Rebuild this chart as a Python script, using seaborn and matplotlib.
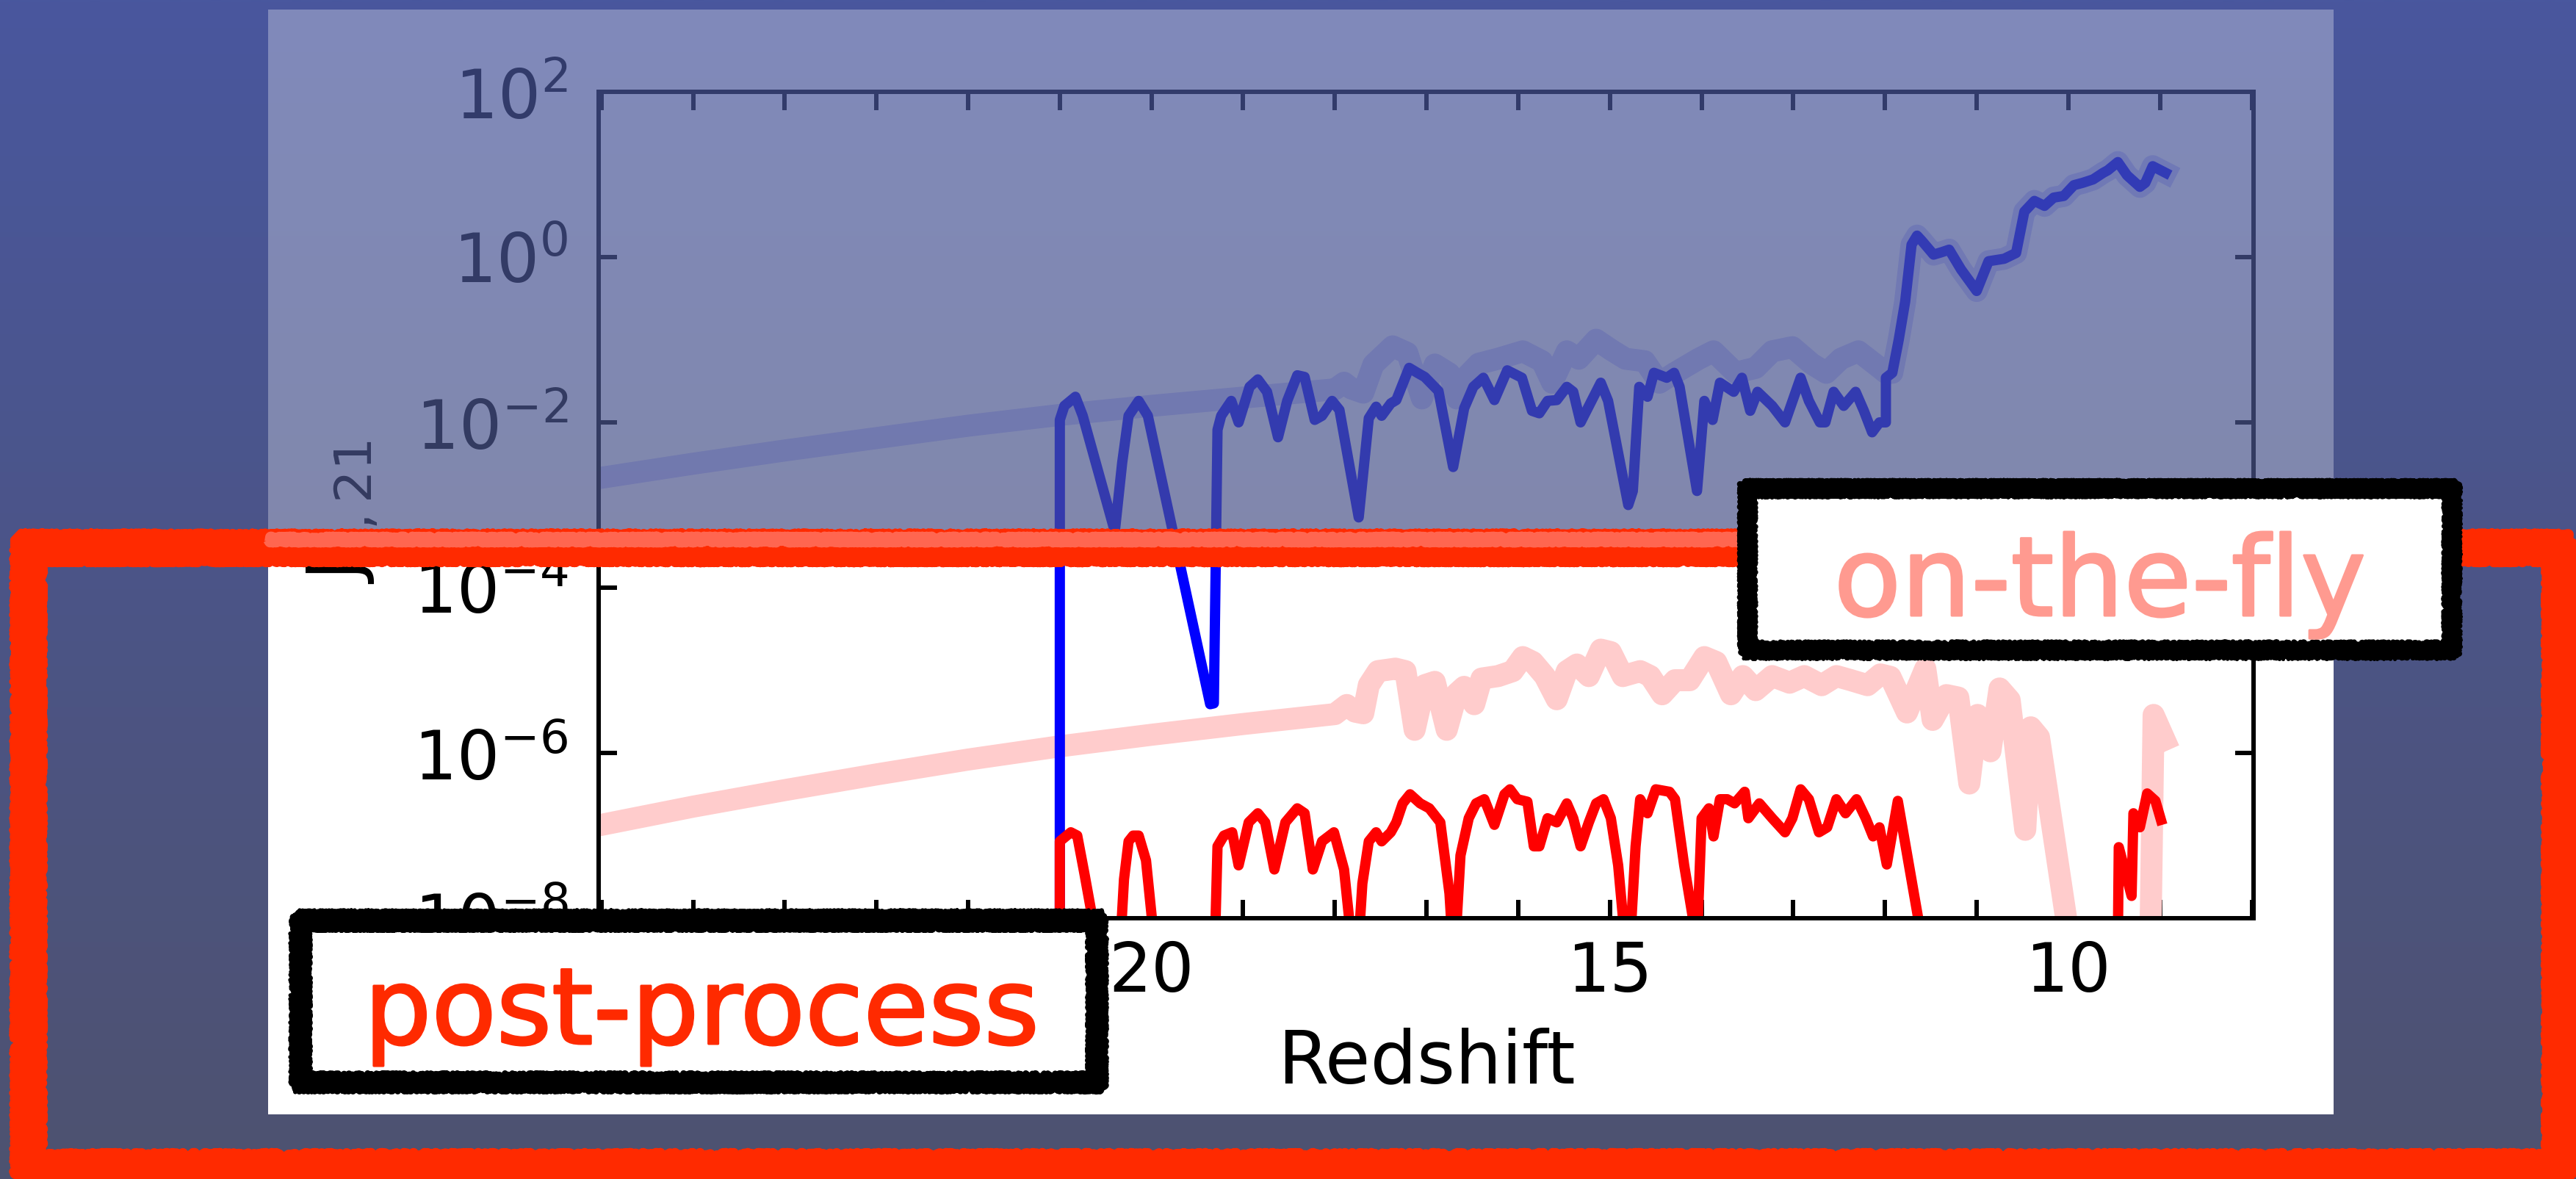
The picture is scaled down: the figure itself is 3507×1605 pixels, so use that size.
import numpy as np
import pandas as pd
import matplotlib
matplotlib.use("Agg")
import matplotlib.pyplot as plt
import matplotlib.patheffects as pe
from matplotlib.patches import Rectangle
from matplotlib.ticker import FixedLocator, MultipleLocator, NullLocator, LogFormatterMathtext
import seaborn as sns

plt.rcParams["font.family"] = ["DejaVu Sans"]
plt.rcParams["mathtext.fontset"] = "dejavusans"

W, H, DPI = 3507, 1605, 100
PX = 72.0 / DPI  # points per pixel

# ---------------------------------------------------------------------------
# J_{nu,21} against redshift, stored as log10(J)
# ---------------------------------------------------------------------------
# on-the-fly, Lyman-Werner (blue)
otf_blue_z = [26.0, 25.0, 24.0, 23.0, 22.0, 21.0, 20.0, 19.0, 18.5, 18.0,
              17.9, 17.82, 17.69, 17.58, 17.37, 17.21, 17.05, 16.91, 16.75, 16.67,
              16.57, 16.43, 16.22, 15.95, 15.74, 15.63, 15.47, 15.34, 15.15, 14.99,
              14.83, 14.62, 14.46, 14.29, 14.03, 13.87, 13.63, 13.41, 13.23, 13.01,
              12.80, 12.64, 12.48, 12.29, 12.08, 11.99,
              11.92, 11.85, 11.78, 11.71, 11.65, 11.60, 11.47, 11.38, 11.30, 11.17,
              11.00, 10.87, 10.70, 10.57, 10.48, 10.37, 10.26, 10.16, 10.05, 9.94,
              9.84, 9.73, 9.62, 9.57, 9.46, 9.36, 9.22, 9.16, 9.08, 8.94]
otf_blue_logj = [-2.67, -2.50, -2.34, -2.19, -2.04, -1.91, -1.80, -1.70, -1.65, -1.60,
                 -1.52, -1.59, -1.64, -1.30, -1.08, -1.16, -1.71, -1.30, -1.41, -1.71,
                 -1.45, -1.29, -1.23, -1.14, -1.26, -1.52, -1.14, -1.23, -1.00, -1.12,
                 -1.23, -1.26, -1.52, -1.40, -1.23, -1.14, -1.40, -1.34, -1.14, -1.09,
                 -1.29, -1.40, -1.23, -1.14, -1.32, -1.40,
                 -1.40, -1.00, -0.54, 0.15, 0.26, 0.20, 0.03, 0.06, 0.09, -0.15,
                 -0.41, -0.05, -0.02, 0.05, 0.55, 0.68, 0.62, 0.72, 0.74, 0.87,
                 0.90, 0.94, 1.02, 1.05, 1.15, 0.99, 0.85, 0.90, 1.10, 1.02]

# on-the-fly, ionising (red)
otf_red_z = [26.0, 25.0, 24.0, 23.0, 22.0, 21.0, 20.0, 19.0, 18.5, 18.0,
             17.87, 17.78, 17.69, 17.63, 17.53, 17.34, 17.23, 17.13, 17.02, 16.91,
             16.78, 16.67, 16.59, 16.48, 16.40, 16.22, 16.06, 15.95, 15.84, 15.71,
             15.58, 15.47, 15.36, 15.23, 15.10, 14.99, 14.86, 14.67, 14.56, 14.43,
             14.29, 14.13, 13.97, 13.84, 13.68, 13.55, 13.41, 13.23, 13.04, 12.88,
             12.69, 12.53, 12.37, 12.19, 12.05, 11.94, 11.76, 11.56, 11.48, 11.33,
             11.20, 11.08, 10.99, 10.85, 10.75, 10.64, 10.47, 10.41, 10.32, 10.00,
             9.12, 9.07, 8.95]
otf_red_logj = [-6.87, -6.65, -6.45, -6.26, -6.08, -5.92, -5.78, -5.65, -5.59, -5.53,
                -5.42, -5.50, -5.52, -5.18, -5.01, -4.98, -5.01, -5.72, -5.18, -5.14,
                -5.72, -5.28, -5.20, -5.41, -5.10, -5.07, -5.01, -4.84, -4.90, -5.07,
                -5.35, -5.01, -4.93, -5.07, -4.75, -4.78, -5.07, -5.01, -5.07, -5.29,
                -5.12, -5.12, -4.84, -4.90, -5.29, -5.07, -5.24, -5.07, -5.15, -5.07,
                -5.18, -5.07, -5.12, -5.18, -5.05, -5.08, -5.51, -4.98, -5.60, -5.30,
                -5.33, -6.37, -5.54, -5.98, -5.22, -5.36, -6.93, -5.69, -5.81, -8.18,
                -9.50, -5.54, -5.84]

# post-processed, Lyman-Werner (blue)
pp_blue_z = [21.0, 21.0, 20.95, 20.83, 20.75, 20.40, 20.32, 20.25, 20.14, 20.04,
             19.36, 19.32, 19.28, 19.24, 19.13, 19.05, 18.93, 18.84, 18.74, 18.62,
             18.52, 18.41, 18.33, 18.22, 18.14, 18.03, 17.95, 17.74, 17.63, 17.55,
             17.49, 17.39, 17.33, 17.19, 17.10, 17.02, 16.87, 16.71, 16.59, 16.49,
             16.38, 16.26, 16.12, 15.96, 15.85, 15.77, 15.68, 15.58, 15.47, 15.40,
             15.32, 15.10, 15.02, 14.80, 14.75, 14.68, 14.59, 14.52, 14.38, 14.30,
             14.24, 14.05, 13.97, 13.88, 13.80, 13.65, 13.56, 13.47, 13.39, 13.23,
             13.09, 12.92, 12.83, 12.71, 12.65, 12.56, 12.45, 12.32, 12.23, 12.14,
             12.06, 11.99, 11.99, 11.92, 11.85, 11.78, 11.71, 11.65, 11.60, 11.47,
             11.38, 11.30, 11.17, 11.00, 10.87, 10.70, 10.57, 10.48, 10.37, 10.26,
             10.16, 10.05, 9.94, 9.84, 9.73, 9.62, 9.57, 9.46, 9.36, 9.22,
             9.16, 9.08, 8.94]
pp_blue_logj = [-12.0, -1.97, -1.80, -1.69, -1.92, -3.32, -2.49, -1.92, -1.74, -1.92,
                -5.41, -5.40, -2.09, -1.92, -1.74, -2.00, -1.57, -1.48, -1.63, -2.18,
                -1.74, -1.43, -1.45, -1.97, -1.92, -1.74, -1.85, -3.15, -1.95, -1.81,
                -1.92, -1.77, -1.73, -1.34, -1.40, -1.45, -1.62, -2.54, -1.83, -1.57,
                -1.46, -1.73, -1.37, -1.46, -1.86, -1.89, -1.74, -1.73, -1.57, -1.63,
                -2.00, -1.52, -1.74, -3.00, -2.83, -1.57, -1.69, -1.40, -1.46, -1.40,
                -1.57, -2.83, -1.74, -1.97, -1.52, -1.63, -1.46, -1.86, -1.63, -1.80,
                -2.00, -1.46, -1.74, -2.00, -2.00, -1.63, -1.80, -1.63, -1.86, -2.12,
                -2.00, -2.00, -1.46, -1.40, -1.00, -0.54, 0.15, 0.26, 0.20, 0.03,
                0.06, 0.09, -0.15, -0.41, -0.05, -0.02, 0.05, 0.55, 0.68, 0.62,
                0.72, 0.74, 0.87, 0.90, 0.94, 1.02, 1.05, 1.15, 0.99, 0.85,
                0.90, 1.10, 1.02]

# post-processed, ionising (red)
pp_red_z = [21.0, 21.0, 20.88, 20.81, 20.73, 20.40, 20.30, 20.25, 20.20, 20.14,
            20.06, 19.95, 19.36, 19.28, 19.21, 19.12, 19.05, 18.94, 18.84, 18.76,
            18.66, 18.54, 18.41, 18.33, 18.24, 18.14, 18.01, 17.90, 17.77, 17.70,
            17.63, 17.55, 17.49, 17.39, 17.33, 17.26, 17.18, 17.07, 16.97, 16.85,
            16.75, 16.70, 16.63, 16.54, 16.46, 16.37, 16.26, 16.15, 16.09, 16.01,
            15.90, 15.83, 15.77, 15.68, 15.58, 15.47, 15.40, 15.32, 15.23, 15.15,
            15.07, 14.99, 14.91, 14.80, 14.72, 14.67, 14.59, 14.50, 14.35, 14.29,
            14.19, 14.05, 14.00, 13.92, 13.87, 13.80, 13.72, 13.64, 13.53, 13.49,
            13.37, 13.23, 13.09, 13.01, 12.92, 12.83, 12.72, 12.63, 12.53, 12.43,
            12.31, 12.21, 12.13, 12.06, 11.98, 11.86, 11.45, 9.47, 9.45, 9.31,
            9.29, 9.22, 9.14, 9.05, 8.99]
pp_red_logj = [-12.0, -7.07, -6.96, -7.00, -7.47, -9.50, -7.53, -7.07, -7.00, -7.00,
               -7.30, -8.50, -10.5, -7.13, -7.00, -6.96, -7.36, -6.84, -6.73, -6.84,
               -7.41, -6.84, -6.67, -6.73, -7.41, -7.07, -6.96, -7.41, -8.80, -7.58,
               -7.07, -6.96, -7.07, -6.96, -6.84, -6.61, -6.50, -6.61, -6.67, -6.84,
               -7.70, -8.60, -7.24, -6.79, -6.61, -6.56, -6.87, -6.50, -6.44, -6.56,
               -6.59, -7.13, -7.13, -6.79, -6.84, -6.61, -6.79, -7.13, -6.84, -6.61,
               -6.56, -6.79, -7.36, -8.70, -7.13, -6.56, -6.73, -6.44, -6.47, -6.56,
               -7.36, -8.30, -6.79, -6.67, -7.01, -6.56, -6.56, -6.61, -6.47, -6.79,
               -6.61, -6.79, -6.96, -6.79, -6.44, -6.56, -6.96, -6.90, -6.56, -6.73,
               -6.56, -6.79, -7.01, -6.90, -7.35, -6.58, -9.20, -9.50, -7.14, -7.73,
               -6.73, -6.90, -6.49, -6.58, -6.81]

y_tick_values = [1e-8, 1e-6, 1e-4, 1e-2, 1e0, 1e2]
label_otf = "on-the-fly"
label_pp = "post-process"


def frame(z, logj):
    return pd.DataFrame({"z": z, "J": np.power(10.0, np.asarray(logj))})


fig = plt.figure(figsize=(W / DPI, H / DPI), dpi=DPI)

# ---- slide background: vertical gradient and the white figure panel ----
top_rgb = np.array([73, 87, 158]) / 255.0
bot_rgb = np.array([78, 82, 112]) / 255.0


def gradient(t0, t1, n=256):
    t = np.linspace(t0, t1, n)[:, None, None]
    return top_rgb + (bot_rgb - top_rgb) * t


bg = fig.add_axes([0, 0, 1, 1], zorder=-10)
bg.imshow(gradient(0, 1), extent=[0, W, H, 0], aspect="auto", interpolation="bilinear")
bg.add_patch(Rectangle((365, 13), 3177 - 365, 1517 - 13, facecolor="white", edgecolor="none"))
bg.set_xlim(0, W)
bg.set_ylim(H, 0)
bg.axis("off")

# ---- the plot ----
ax = fig.add_axes([815 / W, 1 - 1250 / H, (3068 - 815) / W, (1250 - 125) / H])
ax.set_yscale("log")

thick = 30 * PX
thin = 14 * PX
sns.lineplot(data=frame(otf_blue_z, otf_blue_logj), x="z", y="J", ax=ax, sort=False,
             estimator=None, color="#ccccff", lw=thick, legend=False)
sns.lineplot(data=frame(otf_red_z, otf_red_logj), x="z", y="J", ax=ax, sort=False,
             estimator=None, color="#ffcccc", lw=thick, legend=False)
sns.lineplot(data=frame(pp_blue_z, pp_blue_logj), x="z", y="J", ax=ax, sort=False,
             estimator=None, color="#0000ff", lw=thin, legend=False)
sns.lineplot(data=frame(pp_red_z, pp_red_logj), x="z", y="J", ax=ax, sort=False,
             estimator=None, color="#ff0000", lw=thin, legend=False)

ax.set_xlim(26.03, 7.98)
ax.set_ylim(1e-8, 1e2)
ax.xaxis.set_major_locator(MultipleLocator(5))
ax.xaxis.set_minor_locator(MultipleLocator(1))
ax.yaxis.set_major_locator(FixedLocator(y_tick_values))
ax.yaxis.set_minor_locator(NullLocator())
ax.yaxis.set_major_formatter(LogFormatterMathtext())
ax.tick_params(which="both", direction="in", top=True, right=True,
               length=25 * PX, width=6 * PX, color="black")
ax.tick_params(axis="x", labelsize=66, pad=21)
ax.tick_params(axis="y", labelsize=66, pad=30)
for sp in ax.spines.values():
    sp.set_linewidth(6 * PX)
ax.set_xlabel("Redshift", fontsize=72, labelpad=21)
ax.set_ylabel(r"$\mathrm{J}_{\nu,21}$", fontsize=72)
ax.yaxis.set_label_coords((517 - 815) / (3068 - 815), 1 - (697 - 125) / (1250 - 125))

# ---- annotation layer in pixel coordinates ----
deco = fig.add_axes([0, 0, 1, 1], zorder=10)
deco.patch.set_alpha(0)

# translucent veil over the upper half of the panel
veil_top, veil_bot = 13, 750
deco.imshow(gradient(veil_top / H, veil_bot / H), extent=[365, 3177, veil_bot, veil_top],
            aspect="auto", alpha=0.7, interpolation="bilinear", zorder=1)


def rect_path(x0, y0, x1, y1, d):
    xs = [x0 - d, x1 + d, x1 + d, x0 - d, x0 - d, x1 + d]
    ys = [y0 - d, y0 - d, y1 + d, y1 + d, y0 - d, y0 - d]
    return xs, ys


def rough_outline(x0, y0, x1, y1, color, w, zorder):
    # solid core of the brush stroke
    xs, ys = rect_path(x0, y0, x1, y1, 0)
    deco.plot(xs, ys, color=color, lw=0.7 * w * PX, solid_joinstyle="miter", zorder=zorder)
    # ragged outer edge
    xs, ys = rect_path(x0, y0, x1, y1, 0.28 * w)
    ln, = deco.plot(xs, ys, color=color, lw=0.34 * w * PX, solid_joinstyle="round",
                    solid_capstyle="round", zorder=zorder)
    ln.set_sketch_params(scale=0.18 * w, length=5, randomness=3)
    ln, = deco.plot(xs, ys, color=color, lw=0.22 * w * PX, solid_joinstyle="round",
                    dash_capstyle="round", dashes=(2.0, 1.2), zorder=zorder)
    ln.set_sketch_params(scale=0.25 * w, length=3, randomness=4)
    # broken, speckled inner edge
    xs, ys = rect_path(x0, y0, x1, y1, -0.3 * w)
    ln, = deco.plot(xs, ys, color=color, lw=0.32 * w * PX, solid_joinstyle="round",
                    dash_capstyle="round", dashes=(1.3, 0.45), zorder=zorder)
    ln.set_sketch_params(scale=0.12 * w, length=3, randomness=3)


def rough_stroke(xs, ys, color, width_px, zorder):
    ln, = deco.plot(xs, ys, color=color, lw=width_px * PX, solid_capstyle="butt",
                    solid_joinstyle="round", zorder=zorder)
    ln.set_sketch_params(scale=3.5, length=4, randomness=3)


# red highlight frame around the lower half
rough_outline(40, 747, 3484, 1588, "#ff2a00", 44, 3)
rough_stroke([365, 3177], [734, 734], "#ff6650", 15, 4)


def label_box(x0, y0, x1, y1, border_px, text, tx, ty, color, size):
    deco.add_patch(Rectangle((x0, y0), x1 - x0, y1 - y0, facecolor="white",
                             edgecolor="none", zorder=6))
    rough_outline(x0, y0, x1, y1, "black", border_px, 7)
    deco.text(tx, ty, text, color=color, fontsize=size, ha="center", va="baseline",
              family=["DejaVu Sans"], zorder=8,
              path_effects=[pe.withStroke(linewidth=3 * PX, foreground=color,
                                          capstyle="round", joinstyle="round")])


label_box(2379.5, 666, 3337.5, 884.5, 24, label_otf, 2859, 838, "#ff9a90", 108)
label_box(409.5, 1254, 1492.5, 1472, 27, label_pp, 955.5, 1421, "#ff2a00", 104)

deco.set_xlim(0, W)
deco.set_ylim(H, 0)
deco.axis("off")

fig.savefig("out.png", dpi=DPI)
